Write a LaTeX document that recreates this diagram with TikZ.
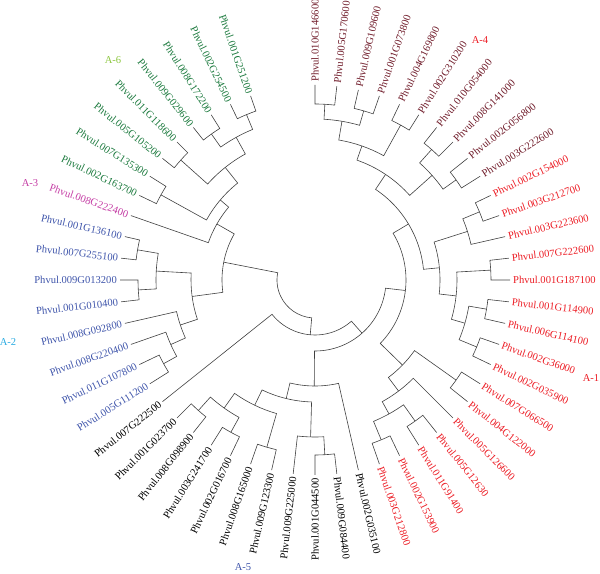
\documentclass[tikz,border=0pt]{standalone}
\usepackage{fontspec}
\setmainfont{Liberation Serif}
\definecolor{cFour}{RGB}{112,28,42}
\definecolor{cOne}{RGB}{236,28,36}
\definecolor{cFive}{RGB}{0,0,0}
\definecolor{cTwo}{RGB}{62,84,170}
\definecolor{cThree}{RGB}{196,60,164}
\definecolor{cSix}{RGB}{28,122,62}
\definecolor{hTwo}{RGB}{40,170,225}
\definecolor{hSix}{RGB}{140,198,63}

% join two children at radius #2, store the angle of the new clade #1
\newcommand{\clade}[4]{%
  \edef\angA{\csname ang#3\endcsname}%
  \edef\angB{\csname ang#4\endcsname}%
  \pgfmathsetmacro{\angM}{(\angA+\angB)/2}%
  \expandafter\xdef\csname ang#1\endcsname{\angM}%
  \coordinate (#1) at (\angM:#2);%
  \draw[branch] (#3) -- (\angA:#2) arc[start angle=\angA, end angle=\angB, radius=#2] -- (#4);%
}

\begin{document}
\begin{tikzpicture}[x=1bp, y=1bp, font=\fontsize{10.6}{12}\selectfont,
    branch/.style={draw=black!75, line width=0.6bp},
    genelab/.style={inner sep=0pt},
    grouplab/.style={inner sep=0pt}]
    \useasboundingbox (-315,-294) rectangle (285,280);
    % leaves
    \foreach \i/\c/\g in {1/cFour/010G146600, 2/cFour/005G170600, 3/cFour/009G109600, 4/cFour/001G073800,
        5/cFour/004G169800, 6/cFour/002G310200, 7/cFour/010G054000, 8/cFour/008G141000,
        9/cFour/002G056800, 10/cFour/003G222600,
        11/cOne/002G154000, 12/cOne/003G212700, 13/cOne/003G223600, 14/cOne/007G222600,
        15/cOne/001G187100, 16/cOne/001G114900, 17/cOne/006G114100, 18/cOne/002G36000,
        19/cOne/002G035900, 20/cOne/007G066500, 21/cOne/004G122000, 22/cOne/005G126600,
        23/cOne/005G12630, 24/cOne/011G91400, 25/cOne/002G153900, 26/cOne/003G212800,
        27/cFive/002G035100, 28/cFive/009G084400, 29/cFive/001G044500, 30/cFive/009G225000,
        31/cFive/009G123300, 32/cFive/008G165000, 33/cFive/002G016700, 34/cFive/003G241700,
        35/cFive/008G098900, 36/cFive/001G023700, 37/cFive/007G222500,
        38/cTwo/005G111200, 39/cTwo/011G107800, 40/cTwo/008G220400, 41/cTwo/008G092800,
        42/cTwo/001G010400, 43/cTwo/009G013200, 44/cTwo/007G255100, 45/cTwo/001G136100,
        46/cThree/008G222400,
        47/cSix/002G163700, 48/cSix/007G135300, 49/cSix/005G105200, 50/cSix/011G118600,
        51/cSix/009G029600, 52/cSix/008G172200, 53/cSix/002G254500, 54/cSix/001G251200} {
        \pgfmathsetmacro{\lang}{90-(\i-1)*6.428571}
        \expandafter\xdef\csname angl\i\endcsname{\lang}
        \coordinate (l\i) at (\lang:195);
        \ifdim\lang pt>-89.5pt
            \node[genelab, text=\c, anchor=west, rotate=\lang] (t\i) at (\lang:198) {Phvul.\g};
        \else
            \pgfmathsetmacro{\lrot}{\lang+180}
            \node[genelab, text=\c, anchor=east, rotate=\lrot] (t\i) at (\lang:198) {Phvul.\g};
        \fi
    }
    % A-4
    \clade{a12}{176}{l1}{l2}
    \clade{a34}{176}{l3}{l4}
    \clade{a14}{161}{a12}{a34}
    \clade{a56}{177}{l5}{l6}
    \clade{a16}{142}{a14}{a56}
    \clade{a78}{175}{l7}{l8}
    \clade{a910}{173}{l9}{l10}
    \clade{a710}{157}{a78}{a910}
    \clade{aFour}{127}{a16}{a710}
    % A-1
    \clade{b1112}{178}{l11}{l12}
    \clade{b1113}{160}{b1112}{l13}
    \clade{b1415}{176}{l14}{l15}
    \clade{b1617}{174}{l16}{l17}
    \clade{b1819}{175}{l18}{l19}
    \clade{b1619}{156}{b1617}{b1819}
    \clade{b1419}{142}{b1415}{b1619}
    \clade{bUp}{125}{b1113}{b1419}
    \clade{x}{109}{aFour}{bUp}
    \clade{c2021}{173}{l20}{l21}
    \clade{c2324}{173}{l23}{l24}
    \clade{c2526}{173}{l25}{l26}
    \clade{c2326}{153}{c2324}{c2526}
    \clade{c2226}{139}{l22}{c2326}
    \clade{cLow}{122}{c2021}{c2226}
    \clade{y}{91}{x}{cLow}
    % A-5
    \clade{d2829}{175}{l28}{l29}
    \clade{d3028}{157}{l30}{d2829}
    \clade{d3132}{174}{l31}{l32}
    \clade{d3334}{174}{l33}{l34}
    \clade{d3536}{175}{l35}{l36}
    \clade{d3336}{157}{d3334}{d3536}
    \clade{d3136}{139}{d3132}{d3336}
    \clade{d2836}{122}{d3028}{d3136}
    \clade{dFive}{106}{l27}{d2836}
    \clade{z}{71}{y}{dFive}
    \clade{w}{55}{z}{l37}
    % A-2
    \clade{e3839}{173}{l38}{l39}
    \clade{e3840}{158}{e3839}{l40}
    \clade{e3841}{142}{e3840}{l41}
    \clade{e4243}{177}{l42}{l43}
    \clade{e4445}{180}{l44}{l45}
    \clade{e4245}{159}{e4243}{e4445}
    \clade{eTwo}{124}{e3841}{e4245}
    % A-3 and A-6
    \clade{f4748}{176}{l47}{l48}
    \clade{f4950}{180}{l49}{l50}
    \clade{f5152}{179}{l51}{l52}
    \clade{f5354}{179}{l53}{l54}
    \clade{f5154}{163}{f5152}{f5354}
    \clade{f4954}{144}{f4950}{f5154}
    \clade{f4754}{124}{f4748}{f4954}
    \clade{fSix}{113}{l46}{f4754}
    \clade{left}{93}{eTwo}{fSix}
    \clade{root}{38}{w}{left}
    % group names
    \node[grouplab, text=cOne] (gFour) at (165,240) {A-4};
    \node[grouplab, text=cOne] (gOne) at (276,-98) {A-1};
    \node[grouplab, text=cTwo] (gFive) at (-72,-287) {A-5};
    \node[grouplab, text=hTwo] (gTwo) at (-307,-62) {A-2};
    \node[grouplab, text=cThree] (gThree) at (-285,97) {A-3};
    \node[grouplab, text=hSix] (gSix) at (-202,220) {A-6};
\end{tikzpicture}
\end{document}
